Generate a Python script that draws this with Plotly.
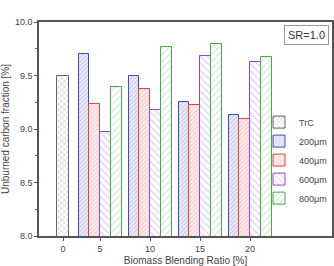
import plotly.graph_objects as go

categories = ["0", "5", "10", "15", "20"]
trc_value = [9.50]
series_names = ["200\u03bcm", "400\u03bcm", "600\u03bcm", "800\u03bcm"]
series_values = [
    [9.70, 9.50, 9.25, 9.13],
    [9.23, 9.37, 9.22, 9.09],
    [8.97, 9.18, 9.68, 9.63],
    [9.39, 9.77, 9.79, 9.67],
]

# layout positions of the categories along the x axis
cat_pos = [0, 0.74, 1.74, 2.74, 3.74]
bw = 0.215
styles = [
    dict(line="#4444cc", fg="#9a9ad8", bg="#eeeef8", shape="/", size=3, sol=0.35),
    dict(line="#dd4444", fg="#e8a0a0", bg="#fbeeee", shape="/", size=3, sol=0.35),
    dict(line="#9944dd", fg="#b8a0e0", bg="#ffffff", shape="\\", size=5, sol=0.25),
    dict(line="#44aa44", fg="#a8d0a8", bg="#ffffff", shape="/", size=5, sol=0.25),
]

fig = go.Figure()
fig.add_trace(go.Bar(
    x=[cat_pos[0]], y=trc_value, width=bw * 1.1, name="TrC",
    marker=dict(color="#ffffff", line=dict(color="#666666", width=1),
                pattern=dict(shape="x", fgcolor="#999999", bgcolor="#ffffff", size=4, solidity=0.3)),
))
for i, (name, vals) in enumerate(zip(series_names, series_values)):
    s = styles[i]
    off = (i - 1.5) * bw
    fig.add_trace(go.Bar(
        x=[p + off for p in cat_pos[1:]], y=vals, width=bw, name=name,
        marker=dict(color=s["bg"], line=dict(color=s["line"], width=1),
                    pattern=dict(shape=s["shape"], fgcolor=s["fg"], bgcolor=s["bg"],
                                 size=s["size"], solidity=s["sol"])),
    ))

fig.update_layout(
    width=334, height=266,
    margin=dict(l=39, r=2, t=22, b=30, pad=0, autoexpand=False),
    plot_bgcolor="white", paper_bgcolor="white",
    barmode="overlay", bargap=0,
    font=dict(family="Liberation Sans, Arial, sans-serif", size=9, color="#444444"),
    showlegend=True,
    legend=dict(x=1.0, y=0.6, xanchor="right", yanchor="top", bgcolor="rgba(0,0,0,0)",
                font=dict(size=9), tracegroupgap=0, itemwidth=30),
    xaxis=dict(range=[-0.48, 5.38], tickvals=cat_pos, ticktext=categories, automargin=False,
               showline=True, linecolor="#555555", linewidth=1.5, mirror=True,
               ticks="outside", ticklen=3, tickcolor="#555555", showgrid=False, zeroline=False,
               title=dict(text="Biomass Blending Ratio [%]", font=dict(size=10))),
    yaxis=dict(range=[8.0, 10.0], tickvals=[8.0, 8.5, 9.0, 9.5, 10.0], automargin=False,
               ticktext=["8.0", "8.5", "9.0", "9.5", "10.0"],
               showline=True, linecolor="#555555", linewidth=1.5, mirror=True,
               ticks="outside", ticklen=3, tickcolor="#555555", showgrid=False, zeroline=False,
               minor=dict(tickvals=[8.25, 8.75, 9.25, 9.75], ticks="outside", ticklen=2, tickcolor="#555555"),
               title=dict(text="Unburned carbon fraction [%]", font=dict(size=10))),
    annotations=[dict(text="SR=1.0", xref="paper", yref="paper", x=0.99, y=0.985,
                      xanchor="right", yanchor="top", showarrow=False,
                      font=dict(size=11, color="#333333"), bordercolor="#999999", borderwidth=1,
                      borderpad=3, bgcolor="white")],
)

fig.write_html("out.html")
